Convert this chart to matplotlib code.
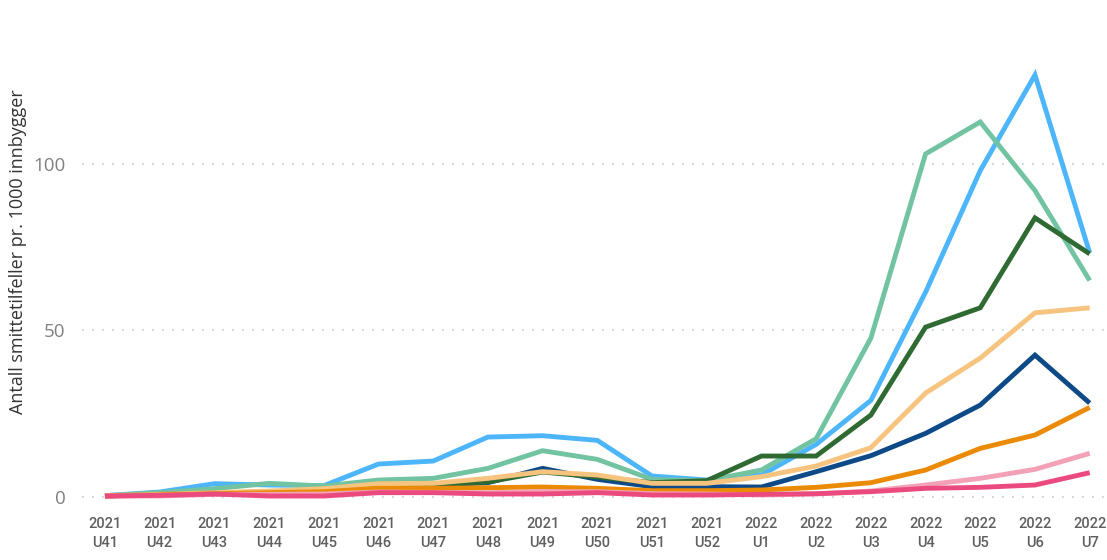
import matplotlib
matplotlib.use("Agg")
import matplotlib.pyplot as plt

weeks = ["2021\nU41", "2021\nU42", "2021\nU43", "2021\nU44", "2021\nU45", "2021\nU46",
         "2021\nU47", "2021\nU48", "2021\nU49", "2021\nU50", "2021\nU51", "2021\nU52",
         "2022\nU1", "2022\nU2", "2022\nU3", "2022\nU4", "2022\nU5", "2022\nU6", "2022\nU7"]

navy = [0.3, 0.8, 1.0, 1.5, 2.0, 3.5, 3.6, 4.3, 8.6, 5.3, 3.1, 3.1, 3.0, 7.6, 12.4, 19.1, 27.6, 42.6, 28.2]
light_blue = [0.4, 1.5, 4.0, 3.6, 3.4, 9.9, 10.8, 18.0, 18.4, 17.0, 6.3, 5.1, 6.6, 15.8, 29.0, 61.5, 98.0, 126.7, 73.3]
teal = [0.4, 1.3, 2.5, 4.1, 3.3, 5.1, 5.6, 8.6, 13.9, 11.3, 5.3, 4.9, 8.1, 17.5, 47.7, 103.0, 112.6, 92.0, 65.0]
dark_green = [0.3, 0.8, 1.2, 1.5, 2.3, 3.8, 3.8, 4.5, 7.5, 6.0, 4.3, 4.9, 12.3, 12.3, 24.6, 51.0, 56.8, 83.8, 73.0]
light_orange = [0.4, 0.8, 1.3, 1.8, 2.5, 4.0, 4.1, 5.6, 7.6, 6.6, 4.1, 4.1, 6.1, 9.3, 14.8, 31.2, 41.7, 55.3, 56.8]
orange = [0.3, 0.6, 1.0, 1.3, 1.6, 2.6, 2.6, 2.8, 3.0, 2.6, 1.9, 1.9, 2.1, 2.9, 4.3, 8.1, 14.6, 18.6, 26.9]
light_pink = [0.3, 0.3, 0.8, 0.8, 0.9, 1.5, 1.4, 1.3, 1.6, 1.6, 1.0, 0.9, 0.6, 0.9, 1.8, 3.6, 5.6, 8.3, 13.1]
pink_red = [0.3, 0.5, 0.9, 0.3, 0.3, 1.3, 1.3, 0.9, 0.9, 1.3, 0.6, 0.6, 0.8, 1.0, 1.6, 2.6, 2.9, 3.6, 7.3]

series = [
    (navy, "#0E4A87"),
    (light_blue, "#4DB5FA"),
    (teal, "#72C3A2"),
    (dark_green, "#2F6A32"),
    (light_orange, "#F6C47E"),
    (orange, "#EA8A05"),
    (light_pink, "#F2A1B6"),
    (pink_red, "#EB4A7E"),
]

yticks = [0, 50, 100]
ylabel = "Antall smittetilfeller pr. 1000 innbygger"

W, H = 1107, 560
fig = plt.figure(figsize=(W / 100, H / 100), dpi=100)
left, right, bottom, top = 82, 1105, 505, 60
ax = fig.add_axes([left / W, 1 - bottom / H, (right - left) / W, (bottom - top) / H])

x = list(range(len(weeks)))
for vals, col in series:
    ax.plot(x, vals, color=col, lw=3.5, solid_joinstyle="miter", solid_capstyle="butt")

ax.set_xlim(-0.42, 18.28)
ax.set_ylim(-2.4, 131.2)
ax.set_xticks(x)
ax.set_xticklabels(weeks, fontsize=10.5, color="#5F5F5F", family="Roboto",
                   fontweight="medium", linespacing=1.45)
ax.set_yticks(yticks)
ax.set_yticklabels([str(v) for v in yticks], fontsize=13.5, color="#808080", family="Open Sans")
ax.tick_params(axis="both", length=0)
ax.tick_params(axis="y", pad=12)
ax.tick_params(axis="x", pad=9)
for s in ax.spines.values():
    s.set_visible(False)
ax.grid(axis="y", color="#C8C8C8", linestyle=(0, (1, 5)), lw=1.2)
ax.set_axisbelow(True)

fig.text(18 / W, 1 - 252 / H, ylabel, rotation=90, ha="center", va="center",
         fontsize=13, color="#333333", family="Open Sans")

fig.savefig("out.png", dpi=100)
